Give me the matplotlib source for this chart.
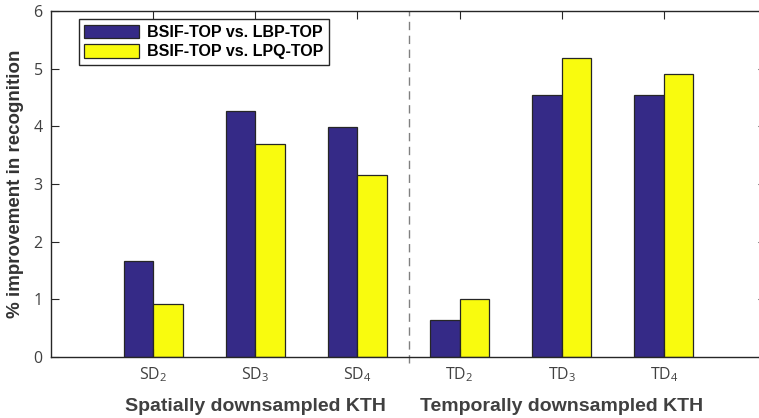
import numpy as np
import matplotlib.pyplot as plt

categories = ['SD$_{\\mathregular{2}}$', 'SD$_{\\mathregular{3}}$', 'SD$_{\\mathregular{4}}$',
              'TD$_{\\mathregular{2}}$', 'TD$_{\\mathregular{3}}$', 'TD$_{\\mathregular{4}}$']
vs_lbp = [1.67, 4.26, 3.98, 0.65, 4.54, 4.54]
vs_lpq = [0.92, 3.70, 3.15, 1.01, 5.19, 4.91]
series_names = ['BSIF-TOP vs. LBP-TOP', 'BSIF-TOP vs. LPQ-TOP']
group_names = ['Spatially downsampled KTH', 'Temporally downsampled KTH']

plt.rcParams['font.family'] = ['Open Sans', 'DejaVu Sans']
plt.rcParams['mathtext.fontset'] = 'custom'
plt.rcParams['mathtext.rm'] = 'Open Sans'

fig = plt.figure(figsize=(7.59, 4.18), dpi=100)
ax = fig.add_axes([51 / 759, 1 - 357 / 418, 715 / 759, 346 / 418])

x = np.arange(1, len(categories) + 1)
w = 0.29
edge = '#262626'
ax.bar(x - w / 2, vs_lbp, w, color='#352a87', edgecolor=edge, linewidth=0.9, label=series_names[0])
ax.bar(x + w / 2, vs_lpq, w, color='#f9fb0e', edgecolor=edge, linewidth=0.9, label=series_names[1])

ax.plot([3.5, 3.5], [-0.1, 6], ls=(0, (6, 4)), color='#808080', lw=1, clip_on=False)

ax.set_xlim(0, 7)
ax.set_ylim(0, 6)
ax.set_xticks(x)
ax.set_xticklabels(categories, fontsize=11.5, color='#404040')
ax.set_yticks(range(7))
ax.tick_params(axis='y', labelsize=11.5, labelcolor='#404040')
ax.tick_params(direction='in', top=True, right=True, length=6, color=edge, pad=6)
for s in ax.spines.values():
    s.set_color(edge)
    s.set_linewidth(1)

ax.set_ylabel('% improvement in recognition', fontsize=13.5, fontweight='bold', color='#333333',
              labelpad=7, family=['Liberation Sans', 'DejaVu Sans'])

ax.text(2, -0.86, group_names[0], ha='center', va='center', fontsize=14, fontweight='bold',
        color='#404040', family=['Liberation Sans', 'DejaVu Sans'])
ax.text(5, -0.86, group_names[1], ha='center', va='center', fontsize=14, fontweight='bold',
        color='#404040', family=['Liberation Sans', 'DejaVu Sans'])

leg = ax.legend(loc='upper left', bbox_to_anchor=(0.039, 0.977), borderaxespad=0, fancybox=False,
                framealpha=1, edgecolor=edge, handlelength=3.4, handleheight=0.95, borderpad=0.35,
                labelspacing=0.25, handletextpad=0.5,
                prop={'family': 'Liberation Sans', 'weight': 'bold', 'size': 11.5})
leg.get_frame().set_linewidth(1)

fig.savefig('out.png', dpi=100)
